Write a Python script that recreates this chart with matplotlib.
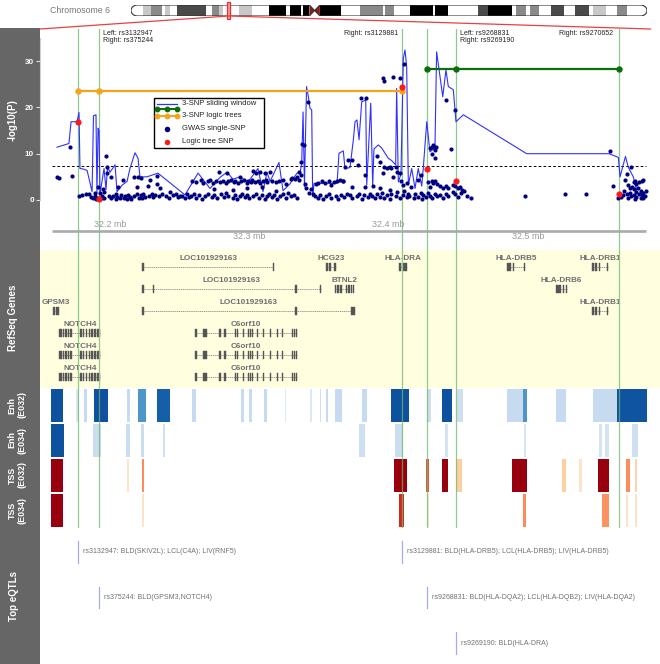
import numpy as np
import matplotlib.pyplot as plt
from matplotlib.colors import LinearSegmentedColormap
from matplotlib.patches import Rectangle, Polygon, ConnectionPatch

plt.rcParams['font.family'] = ['Liberation Sans', 'DejaVu Sans']

# ---------------- data ----------------
# chromosome 6 cytobands (Mb)
cyto_start = [0, 4.0, 6.7, 10.2, 11.2, 13.0, 15.1, 24.8, 26.9, 29.0, 30.4, 35.9, 40.2, 45.8, 51.4,
              52.8, 56.3, 57.0, 59.1, 62.6, 69.6, 75.8, 83.5, 84.2, 87.0, 92.6, 100.2, 100.9, 105.1,
              114.9, 118.4, 126.1, 127.5, 130.9, 132.3, 135.1, 139.3, 143.5, 147.0, 151.8, 153.2,
              157.4, 160.9, 164.4]
cyto_end = cyto_start[1:] + [171.0]
cyto_stain = ['gneg', 'gpos25', 'gpos50', 'gneg', 'gpos25', 'gneg', 'gpos75', 'gneg', 'gpos50',
              'gpos25', 'gneg', 'gpos25', 'gneg', 'gpos100', 'gneg', 'gpos100', 'gneg', 'gpos100',
              'acen', 'gpos100', 'gneg', 'gpos50', 'gneg', 'gpos50', 'gneg', 'gpos100', 'gneg',
              'gpos100', 'gneg', 'gpos75', 'gpos100', 'gneg', 'gpos50', 'gneg', 'gpos50', 'gneg',
              'gpos75', 'gneg', 'gpos75', 'gneg', 'gpos25', 'gneg', 'gpos50', 'gneg']

region = (32158, 32585)          # kb shown in the tracks
axis_ticks = [32200, 32300, 32400, 32500]
sig_line = 7.3

snp_names = ['rs3132947', 'rs375244', 'rs3129881', 'rs9268831', 'rs9269190', 'rs9270652']
snp_pos = [32177.0, 32192.1, 32409.6, 32427.6, 32448.4, 32565.4]
snp_logic_p = [16.9, 0.2, 24.5, 6.7, 4.0, 1.4]
tree_orange = [0, 1, 2]
tree_orange_p = 23.6
tree_green = [3, 4, 5]
tree_green_p = 28.3

# 3-SNP sliding window (kb, -log10 P)
sliding = [(32161.9, 11.4), (32170.5, 12.2), (32172.0, 16.9), (32176.3, 16.9), (32177.7, 18.9),
           (32178.4, 6.8), (32180.6, 6.7), (32183.5, 6.4), (32187.1, 1.8), (32188.1, 18.2),
           (32189.9, 18.4), (32190.6, 1.5), (32191.4, 15.5), (32192.1, 15.0), (32192.8, 1.3),
           (32194.2, 4.0), (32195.7, 6.8), (32197.1, 2.2), (32198.2, 7.2), (32200.0, 6.0),
           (32203.6, 7.6), (32205.0, 1.8), (32208.6, 3.2), (32212.2, 4.0), (32214.3, 6.8),
           (32217.9, 10.2), (32220.1, 9.0), (32221.5, 5.0), (32226.5, 5.0), (32234.4, 5.8),
           (32253.8, 1.1), (32263.2, 5.8), (32271.8, 2.5), (32279.0, 4.9), (32284.0, 6.0),
           (32288.3, 4.5), (32293.3, 5.0), (32299.1, 3.9), (32306.2, 6.8), (32309.8, 1.8),
           (32312.7, 6.0), (32314.9, 4.0), (32321.3, 8.1), (32324.2, 2.0), (32329.2, 3.5),
           (32334.2, 5.8), (32336.4, 5.8), (32337.6, 7.9), (32338.6, 19.0), (32339.6, 2.9),
           (32341.1, 24.5), (32342.4, 22.3), (32343.6, 19.8), (32344.8, 19.5), (32345.5, 0.7),
           (32346.5, 3.6), (32363.0, 3.6), (32364.4, 10.1), (32367.5, 10.6), (32368.7, 6.8),
           (32372.3, 7.0), (32374.7, 13.0), (32375.9, 16.9), (32377.3, 17.3), (32378.8, 13.0),
           (32380.7, 21.2), (32383.6, 21.6), (32384.3, 3.2), (32387.2, 20.9), (32388.6, 3.2),
           (32389.5, 11.0), (32392.6, 11.9), (32395.1, 11.2), (32399.8, 9.0), (32402.3, 8.5),
           (32405.1, 7.6), (32405.8, 24.1), (32407.0, 3.9), (32408.9, 5.6), (32410.6, 30.6),
           (32411.8, 32.4), (32413.0, 28.8), (32414.2, 3.2), (32416.6, 6.8), (32419.0, 2.5),
           (32421.3, 6.8), (32423.8, 3.0), (32424.9, 6.8), (32427.4, 16.9), (32429.7, 10.4),
           (32433.3, 11.2), (32434.5, 32.0), (32438.9, 22.3), (32441.2, 28.1), (32442.9, 24.5),
           (32446.5, 23.8), (32448.4, 16.9), (32453.7, 18.4), (32499.2, 10.0), (32558.3, 10.0),
           (32565.0, 9.2), (32566.2, 5.0), (32570.1, 9.4), (32572.1, 7.1), (32575.7, 5.0),
           (32578.1, 2.2)]

# GWAS single-SNP results (kb, -log10 P)
gwas = [
    # NOTCH4 end
    (32162, 5.0), (32163, 4.7), (32171, 11.4), (32173, 5.2), (32178, 0.9), (32180, 1.1),
    (32183, 1.3), (32185, 1.4), (32186, 0.7), (32188, 0.4), (32189, 1.6), (32189, 0.8),
    (32190, 0.3), (32191, 0.5), (32191, 2.9), (32193, 1.6), (32194, 0.4), (32194, 0.9),
    (32195, 2.4), (32196, 1.8), (32196, 0.4), (32197, 9.6), (32198, 7.2), (32198, 5.8),
    (32199, 0.8),
    # 32.20 - 32.26
    (32201, 5.0), (32201, 0.5), (32202, 0.9), (32204, 1.2), (32204, 0.3), (32205, 0.7),
    (32206, 2.9), (32207, 0.5), (32208, 1.0), (32209, 4.3), (32210, 0.4), (32211, 0.8),
    (32212, 0.3), (32213, 1.1), (32214, 0.6), (32215, 0.2), (32217, 5.0), (32217, 0.9),
    (32219, 1.4), (32219, 2.9), (32220, 4.9), (32221, 0.5), (32222, 4.7), (32222, 1.0),
    (32223, 0.4), (32224, 1.3), (32225, 0.7), (32227, 3.0), (32228, 0.9), (32229, 4.4),
    (32230, 1.4), (32231, 0.6), (32232, 1.1), (32234, 5.2), (32234, 3.5), (32235, 0.8),
    (32236, 2.5), (32237, 1.3), (32240, 0.9), (32242, 0.5), (32243, 1.8), (32245, 1.1),
    (32247, 1.4), (32249, 0.6), (32250, 0.9), (32252, 0.8), (32254, 0.4), (32255, 1.2),
    (32257, 0.7),
    # C6orf10 upper band
    (32259, 4.0), (32262, 3.8), (32265, 4.3), (32267, 3.6), (32270, 4.0), (32272, 4.3),
    (32274, 3.7), (32276, 4.1), (32278, 6.1), (32279, 3.8), (32281, 4.2), (32283, 3.6),
    (32284, 5.8), (32285, 4.0), (32287, 4.4), (32289, 3.8), (32290, 4.1), (32292, 3.6),
    (32293, 5.0), (32294, 4.0), (32296, 4.3), (32298, 3.7), (32299, 4.1), (32301, 3.9),
    (32302, 4.4), (32303, 6.2), (32304, 3.8), (32305, 5.9), (32306, 4.2), (32308, 6.0),
    (32308, 3.7), (32310, 4.1), (32311, 5.8), (32312, 4.4), (32313, 3.9), (32315, 6.0),
    (32316, 4.2), (32319, 3.8), (32321, 4.0), (32324, 4.3), (32326, 3.5),
    # C6orf10 lower band
    (32258, 0.9), (32260, 1.3), (32262, 0.5), (32264, 1.1), (32266, 0.3), (32268, 0.8),
    (32270, 1.4), (32273, 0.6), (32275, 1.0), (32277, 0.4), (32280, 1.2), (32282, 0.7),
    (32283, 1.5), (32285, 0.9), (32288, 0.5), (32290, 1.1), (32291, 0.3), (32293, 0.8),
    (32295, 1.3), (32297, 0.6), (32298, 1.0), (32300, 0.4), (32303, 0.9), (32305, 1.4),
    (32307, 0.5), (32309, 1.1), (32311, 0.2), (32313, 0.8), (32314, 1.3), (32316, 0.6),
    (32318, 1.0), (32320, 0.3), (32322, 0.9), (32324, 1.2), (32326, 0.5), (32328, 1.6),
    (32330, 0.8), (32332, 1.1), (32334, 0.4),
    (32275, 2.4), (32288, 2.2), (32298, 2.6), (32309, 2.9), (32319, 2.0),
    # BTNL2 spike
    (32330, 4.6), (32331, 4.8), (32333, 4.5), (32334, 5.0), (32336, 4.4), (32336, 6.1),
    (32337, 5.5), (32337, 8.3), (32338, 12.1), (32339, 11.9), (32340, 3.5), (32341, 2.6),
    (32342, 21.2), (32343, 1.6), (32344, 2.4), (32346, 1.2), (32347, 0.8), (32348, 3.4),
    (32349, 3.6), (32352, 4.0), (32354, 3.7), (32357, 4.2), (32359, 3.2), (32361, 3.9),
    (32363, 4.0), (32365, 4.3), (32367, 4.0),
    (32349, 0.5), (32351, 1.0), (32353, 0.3), (32355, 0.8), (32357, 1.2), (32359, 0.4),
    (32362, 0.9), (32364, 0.2), (32366, 1.1), (32368, 0.6), (32370, 1.3),
    # HLA-DRA region
    (32369, 7.2), (32371, 8.6), (32374, 8.6), (32378, 7.6), (32380, 22.1), (32384, 22.0),
    (32383, 5.4), (32392, 9.4), (32394, 8.3), (32396, 5.8), (32396, 26.4), (32397, 25.7),
    (32397, 7.2), (32399, 7.0), (32401, 7.2), (32402, 6.9), (32403, 26.6), (32403, 5.0),
    (32405, 7.1), (32406, 6.1), (32408, 5.8), (32408, 26.4), (32411, 29.3),
    (32367, 4.0), (32374, 2.9), (32383, 2.9), (32389, 3.0), (32394, 2.5), (32401, 2.2),
    (32409, 4.0), (32410, 3.2), (32413, 3.6), (32416, 2.9), (32421, 4.3), (32423, 5.4),
    (32372, 1.0), (32374, 0.4), (32377, 0.8), (32379, 1.4), (32381, 0.3), (32382, 1.1),
    (32385, 0.6), (32387, 1.3), (32388, 0.9), (32390, 0.4), (32392, 1.2), (32394, 0.7),
    (32395, 1.5), (32397, 0.5), (32399, 1.0), (32401, 0.3), (32402, 1.3), (32405, 0.8),
    (32406, 1.8), (32408, 0.5), (32410, 1.1), (32411, 2.0), (32413, 0.6), (32414, 1.4),
    (32415, 0.9), (32418, 0.4), (32419, 1.2), (32421, 0.7), (32423, 1.5), (32424, 0.3),
    (32425, 1.0), (32427, 0.6), (32428, 1.6), (32430, 0.9), (32431, 0.4), (32433, 1.3),
    (32435, 0.8), (32437, 1.1), (32439, 0.5), (32441, 1.4), (32443, 0.9), (32446, 1.7),
    (32448, 1.2), (32450, 0.6), (32452, 1.5), (32454, 2.0), (32456, 0.8), (32459, 0.4),
    (32428, 3.8), (32431, 4.0), (32432, 3.6), (32433, 4.1), (32435, 3.5), (32430, 2.9),
    (32437, 3.1), (32439, 2.6), (32441, 3.0), (32443, 2.5), (32446, 3.2), (32448, 3.0),
    (32450, 2.5), (32451, 2.7), (32453, 2.2),
    (32430, 11.2), (32431, 11.4), (32432, 11.9), (32434, 11.4), (32433, 10.8), (32431, 9.9),
    (32433, 9.0), (32441, 21.6), (32445, 11.0), (32448, 19.4),
    # HLA-DRB5 .. HLA-DRB1
    (32498, 0.9), (32527, 1.3), (32542, 1.2), (32559, 10.6), (32561, 3.0), (32565, 0.4),
    (32567, 0.6), (32568, 1.0), (32569, 2.0), (32570, 4.3), (32571, 1.2), (32571, 5.6),
    (32572, 3.2), (32572, 0.5), (32573, 2.5), (32573, 1.6), (32574, 7.2), (32574, 0.8),
    (32575, 2.9), (32576, 3.8), (32576, 2.3), (32576, 1.1), (32577, 4.2), (32577, 0.3),
    (32578, 1.8), (32578, 3.5), (32578, 0.7), (32579, 2.6), (32580, 3.9), (32580, 1.3),
    (32581, 0.5), (32581, 2.0), (32582, 4.0), (32582, 1.0), (32583, 4.3), (32583, 0.4),
    (32583, 1.5), (32584, 0.8), (32585, 1.9),
]

# RefSeq genes: name, row, exons (kb)
notch4_exons = [(32163.6, 32165.3), (32166.0, 32167.0), (32167.9, 32169.1), (32170.0, 32170.8),
                (32171.5, 32172.5), (32178.4, 32179.7), (32180.8, 32181.5), (32182.5, 32183.7),
                (32184.7, 32185.6), (32186.6, 32187.8), (32188.7, 32189.9), (32190.9, 32192.8)]
c6orf10_exons = [(32260.8, 32262.1), (32266.9, 32268.1), (32268.4, 32269.6), (32278.4, 32279.6),
                 (32282.0, 32283.2), (32289.5, 32290.7), (32291.0, 32292.1), (32295.2, 32296.4),
                 (32298.8, 32300.0), (32300.4, 32301.5), (32301.8, 32302.9), (32305.3, 32306.5),
                 (32309.6, 32310.8), (32314.6, 32315.8), (32319.6, 32320.8), (32323.2, 32324.4),
                 (32330.4, 32331.6), (32331.9, 32333.1), (32333.3, 32334.5)]
drb1_exons = [(32546.1, 32547.3), (32547.9, 32549.6), (32550.9, 32551.7), (32556.8, 32557.6)]
genes = [
    ('LOC101929163', 0, [(32223.3, 32224.1), (32317.0, 32317.8)]),
    ('HCG23', 0, [(32355.1, 32356.2), (32357.3, 32358.4), (32360.8, 32362.2)]),
    ('HLA-DRA', 0, [(32407.5, 32408.6), (32409.3, 32413.2)]),
    ('HLA-DRB5', 0, [(32485.0, 32487.9), (32489.4, 32490.3), (32497.1, 32497.9)]),
    ('HLA-DRB1', 0, drb1_exons),
    ('LOC101929163', 1, [(32223.3, 32224.1), (32230.5, 32231.3), (32333.1, 32333.9), (32350.9, 32351.7)]),
    ('BTNL2', 1, [(32361.5, 32362.5), (32363.3, 32364.3), (32365.2, 32366.2), (32369.3, 32370.3),
                  (32371.2, 32372.2), (32373.1, 32374.0), (32374.4, 32375.3)]),
    ('HLA-DRB6', 1, [(32520.2, 32523.6), (32525.3, 32526.2), (32527.3, 32528.1)]),
    ('GPSM3', 2, [(32159.1, 32160.8), (32161.5, 32163.4)]),
    ('LOC101929163', 2, [(32223.3, 32224.1), (32333.1, 32333.9), (32373.0, 32375.9)]),
    ('HLA-DRB1', 2, drb1_exons),
    ('NOTCH4', 3, notch4_exons), ('C6orf10', 3, c6orf10_exons),
    ('NOTCH4', 4, notch4_exons), ('C6orf10', 4, c6orf10_exons),
    ('NOTCH4', 5, notch4_exons), ('C6orf10', 5, c6orf10_exons),
]

# chromatin states: (start kb, end kb, signal 0-1)
enh_e032 = [(32157.3, 32166.3, 0.97), (32175.4, 32177.5, 0.1), (32181.3, 32183.8, 0.25),
            (32188.4, 32198.3, 0.97), (32212.5, 32214.1, 0.25), (32220.1, 32225.8, 0.6),
            (32234.0, 32243.4, 0.88), (32258.9, 32261.7, 0.25), (32294.0, 32296.2, 0.25),
            (32299.6, 32301.7, 0.25), (32310.2, 32312.6, 0.25), (32325.3, 32326.3, 0.1),
            (32343.6, 32345.0, 0.1), (32350.8, 32351.8, 0.2), (32354.9, 32356.4, 0.25),
            (32361.5, 32366.4, 0.25), (32381.2, 32384.5, 0.25), (32402.0, 32415.0, 0.97),
            (32427.7, 32430.7, 0.2), (32438.4, 32445.2, 0.97), (32448.8, 32453.1, 0.2),
            (32485.0, 32496.5, 0.25), (32496.5, 32499.7, 0.6), (32520.5, 32527.4, 0.25),
            (32546.5, 32564.0, 0.25), (32564.0, 32585.5, 0.95)]
enh_e034 = [(32157.3, 32167.2, 0.97), (32187.8, 32193.5, 0.22), (32211.5, 32214.1, 0.22),
            (32222.5, 32224.4, 0.22), (32237.7, 32239.5, 0.18), (32378.8, 32383.3, 0.2),
            (32404.5, 32410.4, 0.22), (32440.4, 32442.5, 0.15), (32497.2, 32498.7, 0.15),
            (32551.1, 32553.2, 0.15), (32555.4, 32558.3, 0.15), (32574.8, 32578.8, 0.2)]
tss_e032 = [(32157.3, 32166.3, 1.0), (32212.5, 32213.8, 0.1), (32222.8, 32224.7, 0.5),
            (32403.9, 32413.5, 1.0), (32426.9, 32428.7, 0.65), (32438.4, 32442.5, 1.0),
            (32448.3, 32452.7, 0.25), (32488.5, 32499.4, 1.0), (32524.7, 32527.2, 0.25),
            (32536.7, 32539.2, 0.1), (32550.4, 32558.5, 1.0), (32570.3, 32573.3, 0.5),
            (32576.7, 32578.2, 0.2)]
tss_e034 = [(32157.3, 32166.3, 1.0), (32223.0, 32224.4, 0.1), (32407.2, 32411.1, 0.78),
            (32427.6, 32429.0, 0.1), (32496.3, 32498.7, 0.5), (32553.2, 32558.3, 0.48),
            (32570.5, 32571.9, 0.1), (32576.7, 32578.2, 0.12)]

# top eQTLs
eqtl_snp = ['rs3132947', 'rs3129881', 'rs375244', 'rs9268831', 'rs9269190']
eqtl_text = ['BLD(SKIV2L); LCL(C4A); LIV(RNF5)', 'BLD(HLA-DRB5); LCL(HLA-DRB5); LIV(HLA-DRB5)',
             'BLD(GPSM3,NOTCH4)', 'BLD(HLA-DQA2); LCL(HLA-DQB2); LIV(HLA-DQA2)', 'BLD(HLA-DRA)']
eqtl_row = [0, 0, 1, 1, 2]

# ---------------- figure ----------------
W, H = 660, 664
fig = plt.figure(figsize=(W / 100, H / 100), dpi=100)


def add_ax(x0, y0, x1, y1, **kw):
    # axes placed with pixel edges measured from the top-left corner
    return fig.add_axes([x0 / W, 1 - y1 / H, (x1 - x0) / W, (y1 - y0) / H], **kw)


XLIM = (32149.7, 32594.9)
SNP_GREEN = '#8cc98a'
GREY_TXT = '#6e6e6e'

ax_bg = add_ax(0, 0, W, H)
ax_bg.set_xlim(0, W)
ax_bg.set_ylim(H, 0)
ax_bg.axis('off')
ax_bg.set_zorder(-1)
ax_bg.add_patch(Rectangle((0, 28), 40, H - 28, color='#666666', lw=0))
side_labels = [('-log10(P)', 13, 120), ('RefSeq Genes', 13, 318), ('Enh\n(E032)', 17, 405),
               ('Enh\n(E034)', 17, 440), ('TSS\n(E032)', 17, 475), ('TSS\n(E034)', 17, 510),
               ('Top eQTLs', 14, 596)]
for txt, x, y in side_labels:
    two = '\n' in txt
    ax_bg.text(x, y, txt, rotation=90, ha='center', va='center', color='white',
               fontsize=6.4 if two else 7, fontweight='bold', linespacing=1.1,
               multialignment='center')

# ---- ideogram ----
ax_id = add_ax(131, 5, 647, 16)
ax_id.set_xlim(0, 171)
ax_id.set_ylim(0, 1)
ax_id.axis('off')
stain_col = {'gneg': 'white', 'gpos25': '#c8c8c8', 'gpos50': '#8a8a8a', 'gpos75': '#4a4a4a',
             'gpos100': 'black', 'acen': '#8b1c1c'}
ci = cyto_stain.index('acen')
cen_s, cen_e = cyto_start[ci], cyto_end[ci]
cen_m = (cen_s + cen_e) / 2
rx = 2.2
t1 = np.linspace(np.pi / 2, 3 * np.pi / 2, 20)
t2 = np.linspace(-np.pi / 2, np.pi / 2, 20)
left_cap = list(zip(rx + rx * np.cos(t1), 0.5 + 0.5 * np.sin(t1)))
right_cap = list(zip(171 - rx + rx * np.cos(t2), 0.5 + 0.5 * np.sin(t2)))
verts = left_cap + [(cen_s, 0), (cen_m, 0.5), (cen_e, 0)] + right_cap + \
        [(cen_e, 1), (cen_m, 0.5), (cen_s, 1)]
clip = Polygon(verts, closed=True, transform=ax_id.transData)
idx = [i for i in range(len(cyto_stain)) if cyto_stain[i] != 'acen']
bars = ax_id.bar([cyto_start[i] for i in idx], 1,
                 [cyto_end[i] - cyto_start[i] for i in idx], align='edge',
                 color=[stain_col[cyto_stain[i]] for i in idx], lw=0)
for b in bars:
    b.set_clip_path(clip)
ax_id.add_patch(Polygon([(cen_s, 0), (cen_s, 1), (cen_m, 0.5)], fc=stain_col['acen'], lw=0))
ax_id.add_patch(Polygon([(cen_e, 0), (cen_e, 1), (cen_m, 0.5)], fc=stain_col['acen'], lw=0))
ax_id.add_patch(Polygon(verts, closed=True, fill=False, ec='#333333', lw=0.8))
reg_mb = (region[0] / 1000, region[1] / 1000)
ax_id.add_patch(Rectangle((reg_mb[0] - 0.3, -0.3), reg_mb[1] - reg_mb[0] + 0.6, 1.6,
                          fc='#f4a0a0', ec='#e83030', lw=0.9, clip_on=False, zorder=5))
ax_id.text(-0.04, 0.5, 'Chromosome 6', transform=ax_id.transAxes, ha='right', va='center',
           fontsize=6.3, color='#777777')

# ---- association panel ----
ax = add_ax(40, 29, W, 250)
ax.set_xlim(*XLIM)
ax.set_ylim(-10.8, 36.93)
for s in ['top', 'right', 'bottom']:
    ax.spines[s].set_visible(False)
ax.spines['left'].set_bounds(0, 35)
ax.spines['left'].set_color('#cfcfcf')
ax.set_xticks([])
ax.set_yticks([0, 10, 20, 30])
ax.tick_params(axis='y', length=3, width=0.8, color='#dddddd', labelcolor='white',
               labelsize=5.8, pad=1.5)
for lab in ax.get_yticklabels():
    lab.set_fontweight('bold')

for p in snp_pos:
    ax.axvline(p, color=SNP_GREEN, lw=0.9, zorder=0.5)
ax.hlines(sig_line, region[0], region[1], colors='black', lw=0.7, linestyles=(0, (2.8, 2.2)))
sx, sy = zip(*sliding)
ax.plot(sx, sy, color='#3030ff', lw=0.8, zorder=2)
gx, gy = zip(*gwas)
ax.scatter(gx, gy, s=9, color='#000080', lw=0, zorder=3)
ax.plot([snp_pos[i] for i in tree_orange], [tree_orange_p] * 3, '-o', color='#f7a21b',
        lw=1.6, ms=3.6, zorder=4)
ax.plot([snp_pos[i] for i in tree_green], [tree_green_p] * 3, '-o', color='#0b6e0b',
        lw=1.6, ms=3.6, zorder=4)
ax.scatter(snp_pos, snp_logic_p, s=20, color='#ff1a1a', lw=0, zorder=5)

# genome axis
ax.plot(region, [-6.6, -6.6], color='#aaaaaa', lw=1.9, solid_capstyle='butt')
for i, t in enumerate(axis_ticks):
    ax.text(t, -5.35 if i % 2 == 0 else -7.9, f'{t / 1000:.1f} mb', ha='center', va='center',
            fontsize=6.4, color='#999999')

snp_notes = [(1, 'Left: rs3132947\nRight: rs375244', 3), (2, 'Right: rs3129881', -2.5),
             (4, 'Left: rs9268831\nRight: rs9269190', 3), (5, 'Right: rs9270652', -4)]
for i, txt, dx in snp_notes:
    ax.annotate(txt, xy=(snp_pos[i], 1), xycoords=('data', 'axes fraction'),
                xytext=(dx, -0.5), textcoords='offset points', ha='left' if dx > 0 else 'right',
                va='top', fontsize=5, color='#222222', linespacing=1.15)

# legend drawn in axes fraction
ax.add_patch(Rectangle((0.184, 0.463), 0.177, 0.227, transform=ax.transAxes, fc='white',
                       ec='black', lw=1.0, zorder=6))
hx = np.array([0.189, 0.205, 0.221])
ax.plot(hx[[0, 2]], [0.661, 0.661], transform=ax.transAxes, color='#3030ff', lw=0.9, zorder=7)
ax.plot(hx, [0.640] * 3, '-o', transform=ax.transAxes, color='#0b6e0b', lw=1.4, ms=3.2, zorder=7)
ax.plot(hx, [0.607] * 3, '-o', transform=ax.transAxes, color='#f7a21b', lw=1.4, ms=3.2, zorder=7)
ax.scatter([0.205], [0.548], transform=ax.transAxes, s=16, color='#000080', lw=0, zorder=7)
ax.scatter([0.205], [0.489], transform=ax.transAxes, s=16, color='#ff1a1a', lw=0, zorder=7)
for txt, yy in [('3-SNP sliding window', 0.661), ('3-SNP logic trees', 0.607),
                ('GWAS single-SNP', 0.548), ('Logic tree SNP', 0.489)]:
    ax.text(0.229, yy, txt, transform=ax.transAxes, ha='left', va='center', fontsize=5.5,
            color='#222222', zorder=7)

# ---- RefSeq genes ----
ax_g = add_ax(40, 250, W, 388)
ax_g.set_facecolor('#ffffe0')
ax_g.set_xlim(*XLIM)
ax_g.set_ylim(5.5, -0.773)
ax_g.set_xticks([])
ax_g.set_yticks([])
for s in ax_g.spines.values():
    s.set_visible(False)
for p in snp_pos:
    ax_g.axvline(p, color=SNP_GREEN, lw=0.9, zorder=5)
for name, row, exons in genes:
    g0 = min(e[0] for e in exons)
    g1 = max(e[1] for e in exons)
    ax_g.plot([g0, g1], [row, row], color='#8a8a8a', lw=0.6, ls=(0, (1.5, 0.8)), zorder=2)
    ax_g.bar([e[0] for e in exons], 0.34, [e[1] - e[0] for e in exons], bottom=row - 0.17,
             align='edge', color='#555555', ec='#555555', lw=0.3, zorder=3)
    ax_g.text((g0 + g1) / 2, row - 0.40, name, ha='center', va='center', fontsize=5.9,
              fontweight='bold', color=GREY_TXT, zorder=4)

# ---- chromatin state tracks ----
enh_cmap = LinearSegmentedColormap.from_list('enh', ['#e8f1fa', '#c6dbef', '#6baed6',
                                                     '#2171b5', '#0b4d9c'])
tss_cmap = LinearSegmentedColormap.from_list('tss', ['#fff0e6', '#fdd0a2', '#fc8d59',
                                                     '#d7301f', '#99000d'])
tracks = [(enh_e032, enh_cmap), (enh_e034, enh_cmap), (tss_e032, tss_cmap), (tss_e034, tss_cmap)]
for k, (blocks, cmap) in enumerate(tracks):
    y0 = 388 + 35 * k
    axt = add_ax(40, y0, W, y0 + 35)
    axt.set_xlim(*XLIM)
    axt.set_ylim(0, 1)
    axt.axis('off')
    axt.bar([b[0] for b in blocks], 0.92, [b[1] - b[0] for b in blocks], bottom=0.04,
            align='edge', color=[cmap(b[2]) for b in blocks], lw=0)
    for p in snp_pos:
        axt.axvline(p, color='#6fb86c', lw=0.9, alpha=0.75, zorder=5)

# ---- top eQTLs ----
ax_e = add_ax(40, 528, W, H)
ax_e.set_xlim(*XLIM)
ax_e.set_ylim(2.46, -0.527)
ax_e.axis('off')
for snp, txt, row in zip(eqtl_snp, eqtl_text, eqtl_row):
    p = snp_pos[snp_names.index(snp)]
    ax_e.plot([p, p], [row - 0.24, row + 0.24], color='#a9a9e6', lw=0.9)
    ax_e.annotate(f'{snp}: {txt}', xy=(p, row), xytext=(3.8, 0), textcoords='offset points',
                  ha='left', va='center', fontsize=5, color='#707070')

# red connectors from chromosome to the zoomed region
for xb in (0.0, 0.985):
    con = ConnectionPatch(xyA=(sum(reg_mb) / 2, 0), coordsA=ax_id.transData,
                          xyB=(xb, 1.0), coordsB=ax.transAxes, color='#e84040', lw=0.9)
    fig.add_artist(con)

fig.savefig('out.png', dpi=100)
